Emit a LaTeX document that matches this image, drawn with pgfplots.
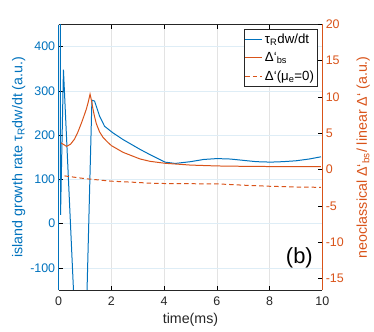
\documentclass[border=0pt]{standalone}
\usepackage{fontspec}
\setmainfont{Liberation Sans}
\usepackage{pgfplots}
\pgfplotsset{compat=1.18}
\definecolor{mblue}{rgb}{0,0.447,0.741}
\definecolor{morange}{rgb}{0.851,0.325,0.098}
\definecolor{mgray}{rgb}{0.15,0.15,0.15}
\pgfplotsset{
  common/.style={
    scale only axis, width=263.6bp, height=265.5bp,
    at={(0,0)}, anchor=south west,
    xmin=0, xmax=10,
    tick align=inside,
    major tick length=4bp,
    every tick/.style={line width=0.6pt},
    tick label style={font=\fontsize{12.5}{15}\selectfont},
    label style={font=\fontsize{14.3}{17}\selectfont},
  }
}
\begin{document}
\begin{tikzpicture}
\begin{axis}[common, name=ax,
  ymin=-150, ymax=450,
  axis y line*=left,
  axis x line*=box,
  x axis line style={mgray, line width=0.6pt},
  y axis line style={mblue, line width=0.6pt},
  xtick={0,2,4,6,8,10},
  xticklabels={0,2,4,6,8,10},
  ytick={-100,0,100,200,300,400},
  yticklabels={-100,0,100,200,300,400},
  yticklabel style={mblue},
  xmajorgrids, ymajorgrids,
  x grid style={gray!22, line width=0.6pt},
  y grid style={mblue!13, line width=0.6pt},
  xlabel={time(ms)},
  ylabel={island growth rate τ\textsubscript{R}dw/dt (a.u.)},
  ylabel style={mblue, yshift=-2bp},
  xlabel style={mgray, yshift=-1bp},
  xticklabel style={mgray, yshift=-3bp},
]
\addplot[mblue, line width=1pt] coordinates {
  (0.0,3000) (0.07,20) (0.18,348) (0.89,-581) (1.26,279) (1.36,277)
  (1.55,243) (1.74,220) (2.06,205) (2.44,190) (3.08,168) (3.46,156)
  (4.03,139) (4.42,136) (5.0,140) (5.5,145) (6.0,147) (6.5,146)
  (7.0,143) (7.5,140) (8.04,139) (8.5,140) (9.0,142) (9.5,146) (9.95,151)
};
\node[font=\fontsize{22}{26}\selectfont, black] at (axis cs:9.13,-78) {(b)};
\end{axis}
\begin{axis}[common,
  ymin=-16.6, ymax=20,
  axis y line*=right,
  axis x line=none,
  y axis line style={morange, line width=0.6pt},
  ytick={-15,-10,-5,0,5,10,15,20},
  yticklabels={-15,-10,-5,0,5,10,15,20},
  yticklabel style={morange},
  ylabel={neoclassical Δ‘\textsubscript{bs}/ linear Δ‘ (a.u.)},
  ylabel style={morange, yshift=-6bp},
  legend style={at={(rel axis cs:0.981,0.984)}, anchor=north east,
    draw=mgray, line width=0.6pt, fill=white,
    font=\fontsize{13.3}{16}\selectfont, row sep=3.5pt,
    inner xsep=1pt, inner ysep=3pt},
  legend cell align=left,
  legend image code/.code={\draw[#1] (0cm,0cm) -- (0.6cm,0cm);},
]
\addlegendimage{mblue, line width=1pt}
\addlegendentry{τ\textsubscript{R}dw/dt}
\addplot[morange, line width=1pt] coordinates {
  (0.09,3.67) (0.3,3.2) (0.45,3.5) (0.6,4.2) (0.72,5.1) (0.85,6.3)
  (0.95,7.3) (1.05,8.35) (1.12,9.3) (1.19,10.4) (1.25,9.4) (1.3,8.35)
  (1.36,7.3) (1.43,6.3) (1.55,5.2) (1.68,4.45) (1.85,3.8) (2.0,3.3)
  (2.44,2.38) (3.08,1.47) (3.46,1.14) (4.03,0.87) (5.0,0.62) (6.0,0.5)
  (7.0,0.45) (8.0,0.42) (9.95,0.41)
};
\addlegendentry{Δ‘\textsubscript{bs}}
\addplot[morange, line width=1pt, dash pattern=on 4.5bp off 3bp] coordinates {
  (0.22,-0.87) (1.0,-1.25) (2.0,-1.6) (3.08,-1.79) (3.46,-1.88)
  (4.0,-1.92) (5.0,-1.95) (6.0,-1.97) (7.0,-2.15) (8.0,-2.3) (9.0,-2.4) (9.95,-2.45)
};
\addlegendentry{Δ‘(μ\textsubscript{e}=0)}
\end{axis}
\pgfresetboundingbox
\path (-58.7bp,-42bp) rectangle (315.3bp,290bp);
\end{tikzpicture}
\end{document}
